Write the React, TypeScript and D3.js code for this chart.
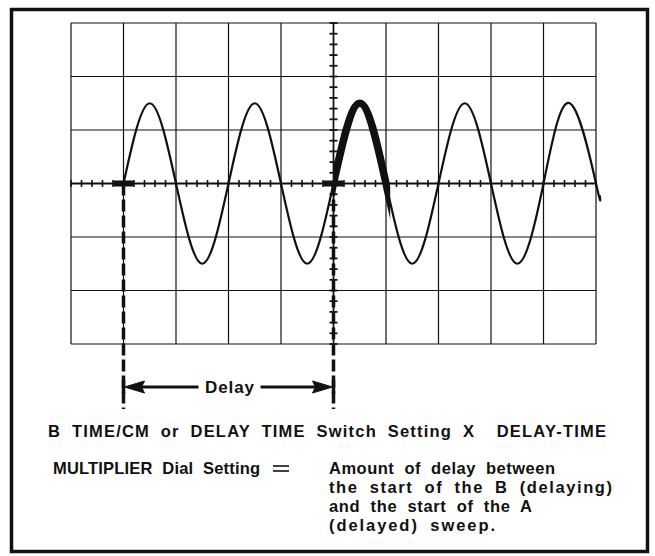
import React from 'react';
import * as d3 from 'd3';

// screen: 10 x 6 divisions, centre lines carry 5 minor ticks per division
const gridCols = d3.range(0, 11);
const gridRows = d3.range(-3, 4);
const minorTicksX = d3.range(0, 50.01, 1).map((v) => v / 5);
const minorTicksY = d3.range(-15, 15.01, 1).map((v) => v / 5);

// trace (x in divisions from left, y in divisions from centre)
const traceX = [1, 1.5, 2, 2.5, 3, 3.5, 4, 4.5, 5, 5.5, 6, 6.5, 7, 7.5, 8, 8.5, 9, 9.5, 10, 10.07];
const traceY = [0, 1.5, 0, -1.5, 0, 1.5, 0, -1.5, 0, 1.5, 0, -1.5, 0, 1.5, 0, -1.5, 0, 1.5, 0, -0.22];

// intensified part of the trace (start of A sweep)
const brightStart = 5;
const brightEnd = 6.08;

// start markers: B sweep start and A (delayed) sweep start
const markers = [1, 5];

const delayLabel = 'Delay';
const line1 = 'B TIME/CM or DELAY TIME Switch Setting X  DELAY-TIME';
const line2a = 'MULTIPLIER Dial Setting';
const resultLines = [
	'Amount of delay between',
	'the start of the B (delaying)',
	'and the start of the A',
	'(delayed) sweep.',
];
// measured widths of the text rows (px)
const line1Width = 558;
const line2aWidth = 207;
const resultWidths = [226, 283, 203, 166];

const W = 655;
const H = 556;
const ink = '#111';
const font = "'Liberation Sans', Arial, sans-serif";

function App() {
	const x = d3.scaleLinear().domain([0, 10]).range([71, 596]);
	const y = d3.scaleLinear().domain([-3, 3]).range([344, 23]);

	const pts: [number, number][] = traceX.map((v, i) => [v, traceY[i]]);
	const traceGen = d3
		.line<[number, number]>()
		.x((d) => x(d[0]))
		.y((d) => y(d[1]))
		.curve(d3.curveNatural);
	const tracePath = traceGen(pts) || '';

	const arrowY = 387;
	const dashEnd = 409;
	const xa = x(markers[0]);
	const xb = x(markers[1]);
	const mid = (xa + xb) / 2 + 1;

	const row1 = 437;
	const row2 = 474;
	const rowGap = 19;

	return (
		<svg
			width={W}
			height={H}
			viewBox={`0 0 ${W} ${H}`}
			style={{ position: 'absolute', left: 0, top: 0, background: '#fff' }}>
			<defs>
				<clipPath id="bright">
					<rect x={x(brightStart)} y={0} width={x(brightEnd) - x(brightStart)} height={H} />
				</clipPath>
			</defs>

			{/* outer frame */}
			<rect x={11.5} y={9.5} width={636} height={542} fill="none" stroke={ink} strokeWidth={3.5} />

			{/* graticule */}
			<g stroke={ink} strokeWidth={1.2}>
				{gridCols.map((c) => (
					<line key={'c' + c} x1={x(c)} x2={x(c)} y1={y(3)} y2={y(-3)} />
				))}
				{gridRows.map((r) => (
					<line key={'r' + r} x1={x(0)} x2={x(10)} y1={y(r)} y2={y(r)} />
				))}
			</g>

			{/* centre lines with minor ticks */}
			<g stroke={ink}>
				<line x1={x(0)} x2={x(10)} y1={y(0)} y2={y(0)} strokeWidth={2} />
				<line x1={x(5)} x2={x(5)} y1={y(3)} y2={y(-3)} strokeWidth={1.6} />
				{minorTicksX.map((t) => (
					<line key={'tx' + t} x1={x(t)} x2={x(t)} y1={y(0) - 3.5} y2={y(0) + 3.5} strokeWidth={1.6} />
				))}
				{minorTicksY.map((t) => (
					<line key={'ty' + t} x1={x(5) - 4} x2={x(5) + 4} y1={y(t)} y2={y(t)} strokeWidth={1.8} />
				))}
			</g>

			{/* trace */}
			<path d={tracePath} fill="none" stroke={ink} strokeWidth={2.2} />
			<path d={tracePath} fill="none" stroke={ink} strokeWidth={7.5} clipPath="url(#bright)" />

			{/* sweep start markers and dashed drop lines */}
			{markers.map((m) => (
				<g key={'m' + m}>
					<rect x={x(m) - 10} y={y(0) - 3} width={20} height={6} fill={ink} />
					<line
						x1={x(m)}
						x2={x(m)}
						y1={y(0)}
						y2={dashEnd}
						stroke={ink}
						strokeWidth={3.5}
						strokeDasharray="12,4"
					/>
					<line x1={x(m)} x2={x(m)} y1={arrowY - 7} y2={arrowY + 7} stroke={ink} strokeWidth={3.5} />
				</g>
			))}

			{/* delay arrow */}
			<g fill={ink} stroke={ink}>
				<line x1={xa + 14} x2={mid - 31} y1={arrowY} y2={arrowY} strokeWidth={3} />
				<line x1={mid + 31} x2={xb - 14} y1={arrowY} y2={arrowY} strokeWidth={3} />
				<path d={`M${xa + 1},${arrowY} L${xa + 21},${arrowY - 6} L${xa + 18},${arrowY} L${xa + 21},${arrowY + 6} Z`} strokeWidth={1} />
				<path d={`M${xb - 1},${arrowY} L${xb - 21},${arrowY - 6} L${xb - 18},${arrowY} L${xb - 21},${arrowY + 6} Z`} strokeWidth={1} />
			</g>
			<text
				x={mid - 24.5}
				y={arrowY + 6}
				textLength={49}
				lengthAdjust="spacing"
				fontFamily={font}
				fontWeight="bold"
				fontSize={17}
				fill={ink}>
				{delayLabel}
			</text>

			{/* formula text */}
			<g fontFamily={font} fontWeight="bold" fontSize={16.5} fill={ink} style={{ wordSpacing: '5px' }}>
				<text x={48} y={row1} textLength={line1Width} lengthAdjust="spacing" xmlSpace="preserve" style={{ whiteSpace: 'pre' }}>
					{line1}
				</text>
				<text x={53} y={row2} textLength={line2aWidth} lengthAdjust="spacing">
					{line2a}
				</text>
				{resultLines.map((t, i) => (
					<text key={t} x={329} y={row2 + i * rowGap} textLength={resultWidths[i]} lengthAdjust="spacing">
						{t}
					</text>
				))}
			</g>
			<g stroke={ink} strokeWidth={1.6}>
				<line x1={273} x2={289} y1={row2 - 8} y2={row2 - 8} />
				<line x1={273} x2={289} y1={row2 - 3} y2={row2 - 3} />
			</g>
		</svg>
	);
}

export default App;
